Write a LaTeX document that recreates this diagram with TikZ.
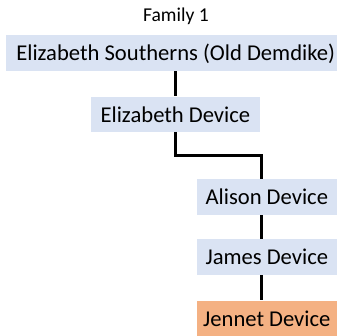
\documentclass[tikz,border=0pt]{standalone}
\usepackage{fontspec}
\setmainfont{Carlito}
\usetikzlibrary{calc}
\definecolor{boxblue}{RGB}{218,227,243}
\definecolor{boxorange}{RGB}{244,177,131}
\tikzset{
  person/.style={rectangle, fill=boxblue, inner sep=0pt, minimum height=36pt,
    text height=18pt, text depth=2pt, font=\fontsize{22.6}{26}\selectfont, text=black},
  focus/.style={person, fill=boxorange},
  link/.style={draw=black, line width=3pt},
  titletext/.style={font=\fontsize{19.6}{22}\selectfont, anchor=base}
}
\begin{document}
\begin{tikzpicture}[x=1pt,y=1pt]
\useasboundingbox (0,0) rectangle (337,-336);
\clip (0,0) rectangle (337,-336);
\node[titletext] (title) at (176,-21.3) {Family 1};
\node[person, minimum width=339.4pt] (b1) at (175.7,-53) {Elizabeth Southerns (Old Demdike)};
\node[person, minimum width=169.3pt, minimum height=35pt] (b2) at (175.4,-114.2) {Elizabeth Device};
\node[person, minimum width=140.2pt] (b3) at (266.8,-197) {Alison Device};
\node[person, minimum width=140.2pt] (b4) at (266.8,-257) {James Device};
\node[focus, minimum width=140.2pt] (b5) at (266.8,-318.7) {Jennet Device};
\coordinate (j3n) at ($(b3.north)+(-5.1,0)$);
\coordinate (j3s) at ($(b3.south)+(-5.1,0)$);
\coordinate (j4n) at ($(b4.north)+(-5.1,0)$);
\coordinate (j4s) at ($(b4.south)+(-5.1,0)$);
\coordinate (j5n) at ($(b5.north)+(-5.1,0)$);
\draw[link] (b1.south) -- (b1.south |- b2.north);
\draw[link] (b2.south) -- ++(0,-23.3) -| (j3n);
\draw[link] (j3s) -- (j4n);
\draw[link] (j4s) -- (j5n);
\end{tikzpicture}
\end{document}
